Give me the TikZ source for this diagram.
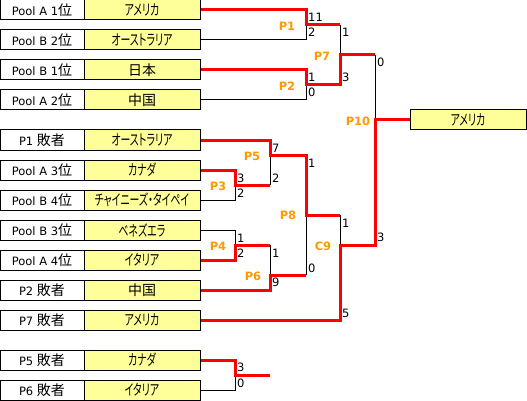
\documentclass[tikz,border=0pt]{standalone}
\usepackage{fontspec}
\setmainfont{DejaVu Sans}
\newfontfamily\jp{Noto Sans CJK JP}
\newfontfamily\jpk[FakeStretch=0.66,RawFeature=+palt]{Noto Sans CJK JP}
\definecolor{boxyellow}{RGB}{255,255,153}
\definecolor{porange}{RGB}{255,153,0}
\newcommand{\kt}[1]{{\jpk\fontsize{15}{17}\selectfont #1}}
\newcommand{\kj}[1]{{\jp\fontsize{14}{16}\selectfont #1}}
\begin{document}
\begin{tikzpicture}[x=1pt,y=-1pt,
  seed/.style={draw=black, line width=1pt, fill=white, minimum width=84pt, minimum height=20pt, inner sep=0pt, font=\fontsize{11.5}{13}\selectfont},
  team/.style={seed, fill=boxyellow, minimum width=116pt},
  lose/.style={black, line width=1pt},
  win/.style={red, line width=3pt, line join=miter},
  score/.style={anchor=west, inner sep=0pt, font=\fontsize{11.5}{13}\selectfont},
  game/.style={text=porange, inner sep=0pt, font=\fontsize{11.5}{13}\selectfont\bfseries}]
\useasboundingbox (0,0) rectangle (527,401);
% seeds
\node[seed] (s1) at (42,10) {Pool A 1\kj{位}};
\node[team] (t1) at (142,10) {\kt{アメリカ}};
\node[seed] (s2) at (42,40) {Pool B 2\kj{位}};
\node[team] (t2) at (142,40) {\kt{オーストラリア}};
\node[seed] (s3) at (42,70) {Pool B 1\kj{位}};
\node[team] (t3) at (142,70) {\kj{日本}};
\node[seed] (s4) at (42,100) {Pool A 2\kj{位}};
\node[team] (t4) at (142,100) {\kj{中国}};
\node[seed] (s5) at (42,140) {P1 \kj{敗者}};
\node[team] (t5) at (142,140) {\kt{オーストラリア}};
\node[seed] (s6) at (42,170) {Pool A 3\kj{位}};
\node[team] (t6) at (142,170) {\kt{カナダ}};
\node[seed] (s7) at (42,200) {Pool B 4\kj{位}};
\node[team] (t7) at (142,200) {\kt{チャイニーズ・タイペイ}};
\node[seed] (s8) at (42,230) {Pool B 3\kj{位}};
\node[team] (t8) at (142,230) {\kt{ベネズエラ}};
\node[seed] (s9) at (42,260) {Pool A 4\kj{位}};
\node[team] (t9) at (142,260) {\kt{イタリア}};
\node[seed] (s10) at (42,290) {P2 \kj{敗者}};
\node[team] (t10) at (142,290) {\kj{中国}};
\node[seed] (s11) at (42,320) {P7 \kj{敗者}};
\node[team] (t11) at (142,320) {\kt{アメリカ}};
\node[seed] (s12) at (42,360) {P5 \kj{敗者}};
\node[team] (t12) at (142,360) {\kt{カナダ}};
\node[seed] (s13) at (42,390) {P6 \kj{敗者}};
\node[team] (t13) at (142,390) {\kt{イタリア}};
\node[team] (final) at (468,120) {\kt{アメリカ}};
% junctions
\coordinate (m1o) at (306,25);
\coordinate (m2o) at (306,85);
\coordinate (m7t) at (340,25);
\coordinate (m7b) at (340,85);
\coordinate (m7o) at (340,55);
\coordinate (m10t) at (375,55);
\coordinate (m10o) at (375,120);
\coordinate (m10b) at (375,245);
\coordinate (m3o) at (235,185);
\coordinate (m4o) at (235,245);
\coordinate (m5b) at (270,185);
\coordinate (m5o) at (270,155);
\coordinate (m6t) at (270,245);
\coordinate (m6o) at (270,275);
\coordinate (m8t) at (306,155);
\coordinate (m8b) at (306,275);
\coordinate (m8o) at (306,215);
\coordinate (m9t) at (340,215);
\coordinate (m9o) at (340,245);
\coordinate (m11o) at (235,375);
\coordinate (end3) at (270,375);
% losing lines
\draw[lose] (t2.east) -| (m1o);
\draw[lose] (t4.east) -| (m2o);
\draw[lose] (m7t) -- (m7o);
\draw[lose] (m10t) -- (m10o);
\draw[lose] (t7.east) -| (m3o);
\draw[lose] (t8.east) -| (m4o);
\draw[lose] (m5b) -- (m5o);
\draw[lose] (m6t) -- (m6o);
\draw[lose] (m8b) -- (m8o);
\draw[lose] (m9t) -- (m9o);
\draw[lose] (t13.east) -| (m11o);
% winning lines
\draw[win] (t1.east) -| (m1o) -- (m7t);
\draw[win] (t3.east) -| (m2o) -- (m7b) -- (m7o) -- (m10t);
\draw[win] (t5.east) -| (m5o) -- (m8t) -- (m8o) -- (m9t);
\draw[win] (t6.east) -| (m3o) -- (m5b);
\draw[win] (t9.east) -| (m4o) -- (m6t);
\draw[win] (t10.east) -| (m6o) -- (m8b);
\draw[win] (t11.east) -| (m9o) -- (m10b) -- (m10o) -- (final.west);
\draw[win] (t12.east) -| (m11o) -- (end3);
% game labels
\node[game] (gP1) at (287,26) {P1};
\node[game] (gP2) at (287,86) {P2};
\node[game] (gP7) at (322,56) {P7};
\node[game] (gP10) at (358,121) {P10};
\node[game] (gP5) at (252,156) {P5};
\node[game] (gP3) at (218,186) {P3};
\node[game] (gP8) at (288,215) {P8};
\node[game] (gP4) at (218,246) {P4};
\node[game] (gP6) at (253,276) {P6};
\node[game] (gC9) at (323,246) {C9};
% scores
\node[score] (a1) at (308,17) {11};
\node[score] (b1) at (308,32) {2};
\node[score] (a2) at (308,77) {1};
\node[score] (b2) at (308,92) {0};
\node[score] (a7) at (342,32) {1};
\node[score] (b7) at (342,77) {3};
\node[score] (a10) at (377,62) {0};
\node[score] (b10) at (377,237) {3};
\node[score] (a3) at (237,178) {3};
\node[score] (b3) at (237,193) {2};
\node[score] (a4) at (237,238) {1};
\node[score] (b4) at (237,253) {2};
\node[score] (a5) at (272,148) {7};
\node[score] (b5) at (272,178) {2};
\node[score] (a6) at (272,253) {1};
\node[score] (b6) at (272,282) {9};
\node[score] (a8) at (308,163) {1};
\node[score] (b8) at (308,268) {0};
\node[score] (a9) at (342,223) {1};
\node[score] (b9) at (342,313) {5};
\node[score] (a11) at (237,367) {3};
\node[score] (b11) at (237,383) {0};
\end{tikzpicture}
\end{document}
